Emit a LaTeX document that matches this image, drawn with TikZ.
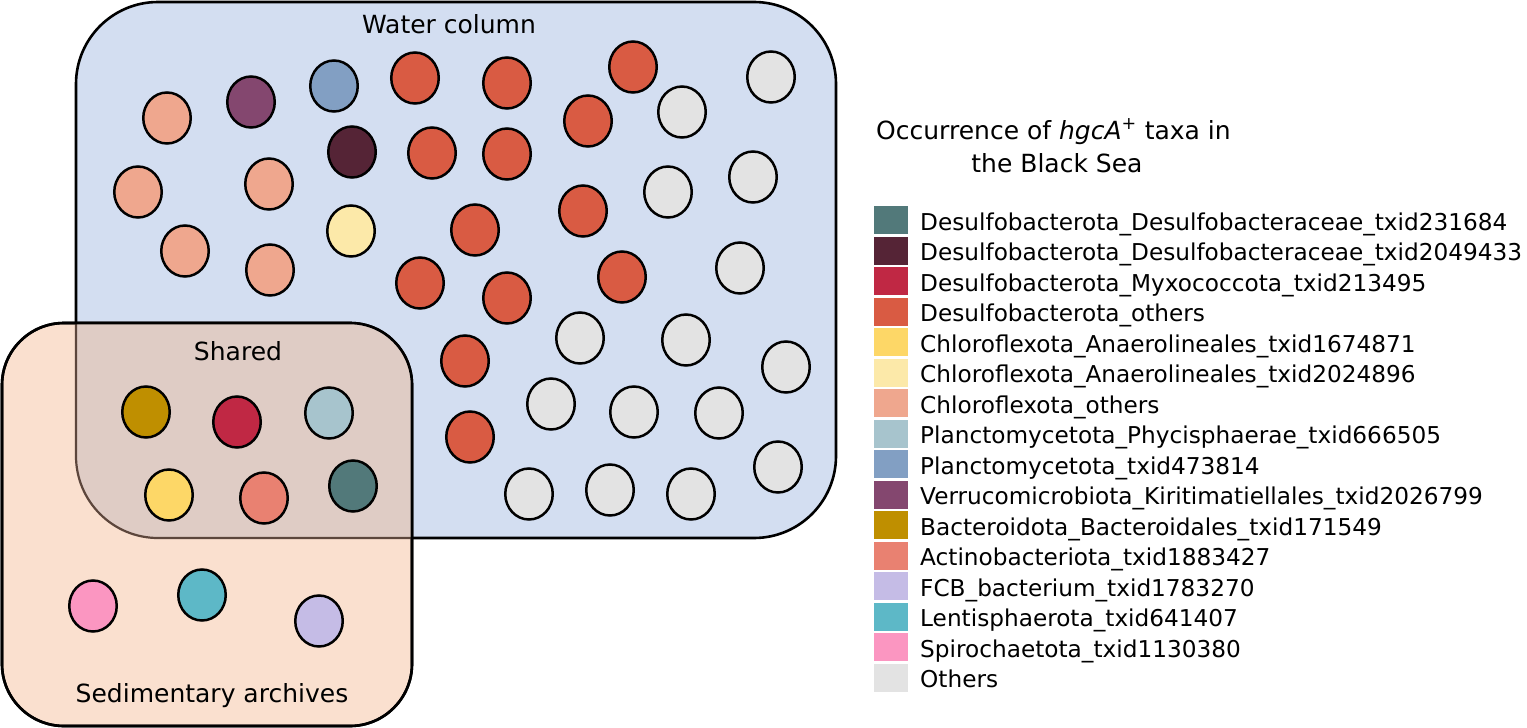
\documentclass[tikz,border=0pt]{standalone}
\usepackage{fontspec}
\setmainfont{DejaVu Sans}
\usetikzlibrary{shapes.geometric}

\definecolor{waterbg}{RGB}{211,222,241}
\definecolor{sedbg}{RGB}{250,224,207}
\definecolor{sharedbg}{RGB}{223,204,197}
\definecolor{sharedline}{RGB}{92,70,60}
\definecolor{cTeal}{RGB}{82,121,122}
\definecolor{cMaroon}{RGB}{85,36,54}
\definecolor{cCrimson}{RGB}{192,40,68}
\definecolor{cRed}{RGB}{217,91,67}
\definecolor{cYellow}{RGB}{253,215,103}
\definecolor{cPale}{RGB}{252,233,169}
\definecolor{cSalmon}{RGB}{239,167,142}
\definecolor{cBlueGrey}{RGB}{167,196,205}
\definecolor{cBlue}{RGB}{130,159,195}
\definecolor{cPurple}{RGB}{132,71,111}
\definecolor{cGold}{RGB}{191,143,0}
\definecolor{cActino}{RGB}{233,129,113}
\definecolor{cLavender}{RGB}{197,188,230}
\definecolor{cCyan}{RGB}{93,184,199}
\definecolor{cPink}{RGB}{251,150,193}
\definecolor{cOther}{RGB}{227,227,227}

\begin{document}
\begin{tikzpicture}
[x=1pt,y=-1pt,
 taxon/.style={ellipse,draw,line width=2.5pt,minimum width=47.5pt,minimum height=51pt,inner sep=0pt},
 swatch/.style={rectangle,minimum width=34pt,minimum height=28pt,inner sep=0pt},
 boxlabel/.style={anchor=base,inner sep=0pt,font=\fontsize{25}{30}\selectfont},
 legtext/.style={anchor=base west,inner sep=0pt,font=\fontsize{23.2}{28}\selectfont}]
\useasboundingbox (0,0) rectangle (1527,728);
% the two sets and their overlap
\draw[fill=waterbg,line width=2.6pt,rounded corners=82] (76,2) rectangle (836,538);
\draw[fill=sedbg,line width=2.6pt,rounded corners=62] (2,323) rectangle (412,726);
\begin{scope}
\clip[rounded corners=62] (2,323) rectangle (412,726);
\draw[fill=sharedbg,draw=sharedline,line width=2.2pt,rounded corners=82] (76,2) rectangle (836,538);
\end{scope}
\draw[line width=2.6pt,rounded corners=62] (2,323) rectangle (412,726);
\node[boxlabel] (water) at (449,33) {Water column};
\node[boxlabel] (shared) at (238,360) {Shared};
\node[boxlabel] (sed) at (212,702) {Sedimentary archives};
% water column only
\foreach \p [count=\i] in {(415,78),(507,83),(633,67),(588,121),(432,153),(507,154),(583,211),(475,230),(420,283),(622,277),(507,298),(465,361),(470,437)}
\node[taxon,fill=cRed] (red\i) at \p {};
\foreach \p [count=\i] in {(771,77),(682,112),(668,192),(753,177),(740,268),(580,338),(686,340),(786,367),(551,404),(634,412),(719,413),(778,467),(529,494),(610,490),(691,494)}
\node[taxon,fill=cOther] (oth\i) at \p {};
\foreach \p [count=\i] in {(167,118),(138,192),(269,184),(185,251),(270,270)}
\node[taxon,fill=cSalmon] (chl\i) at \p {};
\node[taxon,fill=cPurple] (verru) at (251,102) {};
\node[taxon,fill=cBlue] (planc) at (334,86) {};
\node[taxon,fill=cMaroon] (desB) at (352,152) {};
\node[taxon,fill=cPale] (anaB) at (351,231) {};
% shared
\node[taxon,fill=cGold] (bact) at (146,412) {};
\node[taxon,fill=cCrimson] (myxo) at (237,422) {};
\node[taxon,fill=cBlueGrey] (phyc) at (329,413) {};
\node[taxon,fill=cYellow] (anaA) at (169,495) {};
\node[taxon,fill=cActino] (actino) at (264,498) {};
\node[taxon,fill=cTeal] (desA) at (353,486) {};
% sediment only
\node[taxon,fill=cPink] (spiro) at (93,606) {};
\node[taxon,fill=cCyan] (lenti) at (202,595) {};
\node[taxon,fill=cLavender] (fcb) at (319,621) {};
% legend
\node[boxlabel] (title1) at (1053.5,139) {Occurrence of \textit{hgcA}\textsuperscript{+} taxa in};
\node[boxlabel] (title2) at (1057,172) {the Black Sea};
\foreach \col/\txt [count=\i] in {cTeal/Desulfobacterota\_Desulfobacteraceae\_txid231684,
  cMaroon/Desulfobacterota\_Desulfobacteraceae\_txid2049433,
  cCrimson/Desulfobacterota\_Myxococcota\_txid213495,
  cRed/Desulfobacterota\_others,
  cYellow/Chloroflexota\_Anaerolineales\_txid1674871,
  cPale/Chloroflexota\_Anaerolineales\_txid2024896,
  cSalmon/Chloroflexota\_others,
  cBlueGrey/Planctomycetota\_Phycisphaerae\_txid666505,
  cBlue/Planctomycetota\_txid473814,
  cPurple/Verrucomicrobiota\_Kiritimatiellales\_txid2026799,
  cGold/Bacteroidota\_Bacteroidales\_txid171549,
  cActino/Actinobacteriota\_txid1883427,
  cLavender/FCB\_bacterium\_txid1783270,
  cCyan/Lentisphaerota\_txid641407,
  cPink/Spirochaetota\_txid1130380,
  cOther/Others}
{
\node[swatch,fill=\col] (sw\i) at (891,189.5+30.5*\i) {};
\node[legtext] (lab\i) at (920,199.5+30.5*\i) {\txt};
}
\end{tikzpicture}
\end{document}
